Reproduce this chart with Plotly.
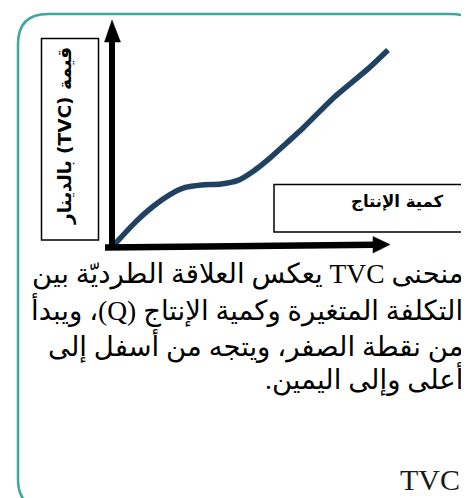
import plotly.graph_objects as go

# ── Data ────────────────────────────────────────────────────────────────────
q_values = [0, 0.8, 1.4, 2.0, 2.6, 3.2, 3.9, 4.5, 5.1, 5.7, 6.3, 6.9, 8.0, 9.3, 10]
tvc_values = [0, 1.2, 1.95, 2.55, 2.95, 3.08, 3.13, 3.3, 3.8, 4.47, 5.23, 6.0, 7.53, 9.07, 10]

y_label = "قيمة (TVC) بالدينار"
x_label = "كمية الإنتاج"
caption_lines = [
    "منحنى TVC يعكس العلاقة الطرديّة بين",
    "التكلفة المتغيرة وكمية الإنتاج (Q)، ويبدأ",
    "من نقطة الصفر، ويتجه من أسفل إلى",
    "أعلى وإلى اليمين.",
]
footer = "TVC"

# ── Canvas helpers ───────────────────────────────────────────────────────────
W, H = 469, 498
X0_PX, Y0_PX = 106, 237      # where Q=0 / TVC=0 sits
SX, SY = 27.4, 19.5          # pixels per unit

_TEAL = "#3aa89c"
_CURVE = "#1f4262"
_BLACK = "#000000"


def px(x):
    return x / W


def py(y):
    return 1 - y / H


def rtl(s):
    return "\u202b" + s + "\u202c"


fig = go.Figure()

fig.add_trace(go.Scatter(
    x=q_values, y=tvc_values,
    mode="lines", line=dict(color=_CURVE, width=5.5, shape="spline", smoothing=0.7),
    showlegend=False, hoverinfo="skip",
))

shapes = []

# outer rounded frame
l, t, r, b, rad = 10, 6, 473, 501, 30
frame = (
    f"M {px(l)},{py(b - rad)} L {px(l)},{py(t + rad)} "
    f"Q {px(l)},{py(t)} {px(l + rad)},{py(t)} "
    f"L {px(r - rad)},{py(t)} Q {px(r)},{py(t)} {px(r)},{py(t + rad)} "
    f"L {px(r)},{py(b - rad)} Q {px(r)},{py(b)} {px(r - rad)},{py(b)} "
    f"L {px(l + rad)},{py(b)} Q {px(l)},{py(b)} {px(l)},{py(b - rad)} Z"
)
shapes.append(dict(type="path", xref="paper", yref="paper", path=frame,
                   line=dict(color=_TEAL, width=2.5), layer="below"))

# axes with arrow heads
shapes.append(dict(type="line", xref="paper", yref="paper",
                   x0=px(104), y0=py(242), x1=px(104), y1=py(32),
                   line=dict(color=_BLACK, width=6)))
shapes.append(dict(type="path", xref="paper", yref="paper",
                   path=f"M {px(96.5)},{py(34)} L {px(112.5)},{py(34)} L {px(104)},{py(12)} Z",
                   fillcolor=_BLACK, line=dict(color=_BLACK, width=0.5)))
shapes.append(dict(type="line", xref="paper", yref="paper",
                   x0=px(97), y0=py(239.5), x1=px(367), y1=py(236.8),
                   line=dict(color=_BLACK, width=6.5)))
shapes.append(dict(type="path", xref="paper", yref="paper",
                   path=f"M {px(365)},{py(228.5)} L {px(365)},{py(245)} L {px(382)},{py(236.5)} Z",
                   fillcolor=_BLACK, line=dict(color=_BLACK, width=0.5)))

# label boxes
shapes.append(dict(type="rect", xref="paper", yref="paper",
                   x0=px(33.5), y0=py(232), x1=px(90.5), y1=py(30.5),
                   line=dict(color=_BLACK, width=1.5)))
shapes.append(dict(type="rect", xref="paper", yref="paper",
                   x0=px(266), y0=py(224), x1=px(454), y1=py(176.5),
                   line=dict(color=_BLACK, width=1.5)))

annotations = [
    dict(text=rtl(y_label), xref="paper", yref="paper", x=px(57), y=py(128),
         textangle=-90, showarrow=False, xanchor="center", yanchor="middle",
         font=dict(family="DejaVu Sans", size=18.5, color=_BLACK, weight="bold")),
    dict(text=rtl(x_label), xref="paper", yref="paper", x=px(438), y=py(194),
         showarrow=False, xanchor="right", yanchor="middle",
         font=dict(family="DejaVu Sans", size=16.5, color=_BLACK, weight="bold")),
]

for line_txt, yc in zip(caption_lines, [266, 301, 337, 370]):
    annotations.append(dict(
        text=rtl(line_txt), xref="paper", yref="paper", x=px(457), y=py(yc),
        showarrow=False, xanchor="right", yanchor="middle",
        font=dict(family="Liberation Serif, DejaVu Sans", size=27.5, color=_BLACK),
    ))

annotations.append(dict(
    text=footer, xref="paper", yref="paper", x=px(454), y=py(471),
    showarrow=False, xanchor="right", yanchor="middle",
    font=dict(family="Liberation Serif", size=30, color="#1a1a1a"),
))

fig.update_layout(
    width=W, height=H,
    margin=dict(l=0, r=0, t=0, b=0),
    paper_bgcolor="white", plot_bgcolor="white",
    xaxis=dict(range=[-X0_PX / SX, (W - X0_PX) / SX], visible=False, fixedrange=True),
    yaxis=dict(range=[-(H - Y0_PX) / SY, Y0_PX / SY], visible=False, fixedrange=True),
    shapes=shapes, annotations=annotations,
    showlegend=False,
)

fig.write_html("out.html", config={"displayModeBar": False})
